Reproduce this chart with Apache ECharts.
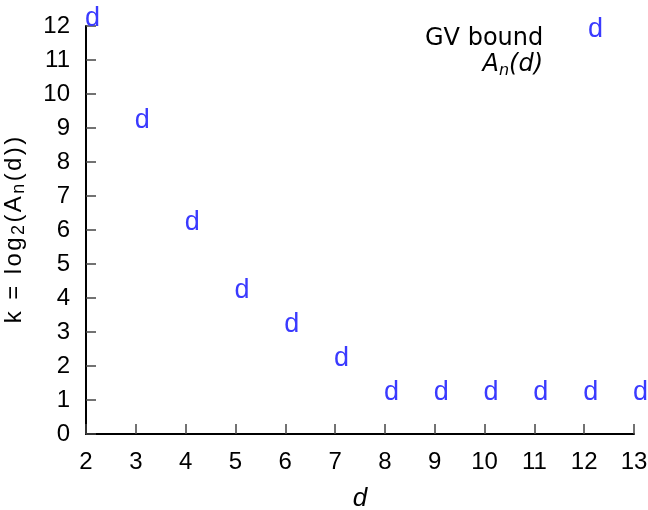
<!DOCTYPE html>
<html><head><meta charset="utf-8">
<script src="https://cdn.jsdelivr.net/npm/echarts@6/dist/echarts.min.js"></script>
<style>html,body{margin:0;padding:0;background:#fff}#c{width:648px;height:510px}</style>
</head><body><div id="c"></div>
<script>
const xValues = [2, 3, 4, 5, 6, 7, 8, 9, 10, 11, 12, 13];
const kValues = [12, 9, 6, 4, 3, 2, 1, 1, 1, 1, 1, 1];
const xTicks = [2, 13, 1];   // min, max, interval
const yTicks = [0, 12, 1];
const legendTitle = 'GV bound';
const seriesName = 'A';

const sans = '"Liberation Sans",Arial,sans-serif';
const data = xValues.map((x, i) => [x, kValues[i]]);

// y axis name built from spaced rich segments
const yNameParts = [['t','k'],['t',' '],['t','='],['t',' '],['t','l'],['t','o'],['t','g'],['s','2'],['t','('],['t','A'],['s','n'],['t','('],['t','d'],['t',')'],['t',')']];
const yName = yNameParts.map(p => '{' + p[0] + '|' + p[1] + '}').join('');

const chart = echarts.init(document.getElementById('c'), null, {renderer: 'canvas'});
chart.setOption({
  animation: false,
  backgroundColor: '#fff',
  grid: {left: 86, right: 14, top: 26, bottom: 76, containLabel: false, outerBoundsMode: 'none'},
  xAxis: {
    type: 'value', min: xTicks[0], max: xTicks[1], interval: xTicks[2],
    name: 'd', nameLocation: 'middle', nameGap: 52,
    nameTextStyle: {fontFamily: sans, fontStyle: 'italic', fontSize: 26, color: '#000'},
    axisLine: {lineStyle: {color: '#000', width: 2}},
    axisTick: {inside: true, length: 10, lineStyle: {color: '#444', width: 1.5}},
    axisLabel: {fontFamily: sans, fontSize: 24, color: '#000', margin: 16},
    splitLine: {show: false}
  },
  yAxis: {
    type: 'value', min: yTicks[0], max: yTicks[1], interval: yTicks[2],
    name: yName, nameLocation: 'middle', nameGap: 58, nameRotate: 90,
    nameTextStyle: {rich: {
      t: {fontFamily: sans, fontSize: 24, color: '#000', padding: [0, 1.2, 0, 1.2]},
      s: {fontFamily: sans, fontSize: 18, color: '#000', verticalAlign: 'bottom', padding: [10, 1.2, 0, 1.2]}
    }},
    axisLine: {lineStyle: {color: '#000', width: 2}},
    axisTick: {inside: true, length: 10, lineStyle: {color: '#444', width: 1.5}},
    axisLabel: {fontFamily: sans, fontSize: 24, color: '#000', margin: 16},
    splitLine: {show: false}
  },
  series: [{
    type: 'scatter', name: seriesName, data: data,
    symbolSize: 0, itemStyle: {color: '#3333ff', opacity: 1},
    label: {show: true, formatter: 'd', position: [-1, 6], align: 'left', verticalAlign: 'bottom',
      fontFamily: sans, fontSize: 27, color: '#3a3aff', opacity: 1},
    emphasis: {disabled: true},
    clip: false
  }],
  graphic: [
    {type: 'text', left: 425, top: 27, style: {text: legendTitle, font: '24px "DejaVu Sans"', fill: '#000'}},
    {type: 'text', right: 105, top: 53, style: {
      text: '{a|A}{n|n}{a|(d)}',
      rich: {a: {font: 'italic 24px "DejaVu Sans"', fill: '#000'}, n: {font: 'italic 16px "DejaVu Sans"', fill: '#000', verticalAlign: 'bottom', padding: [12,0,0,0]}}
    }},
    {type: 'text', left: 588, top: 16, style: {text: 'd', font: '27px "Liberation Sans"', fill: '#3a3aff'}}
  ]
});
</script></body></html>
